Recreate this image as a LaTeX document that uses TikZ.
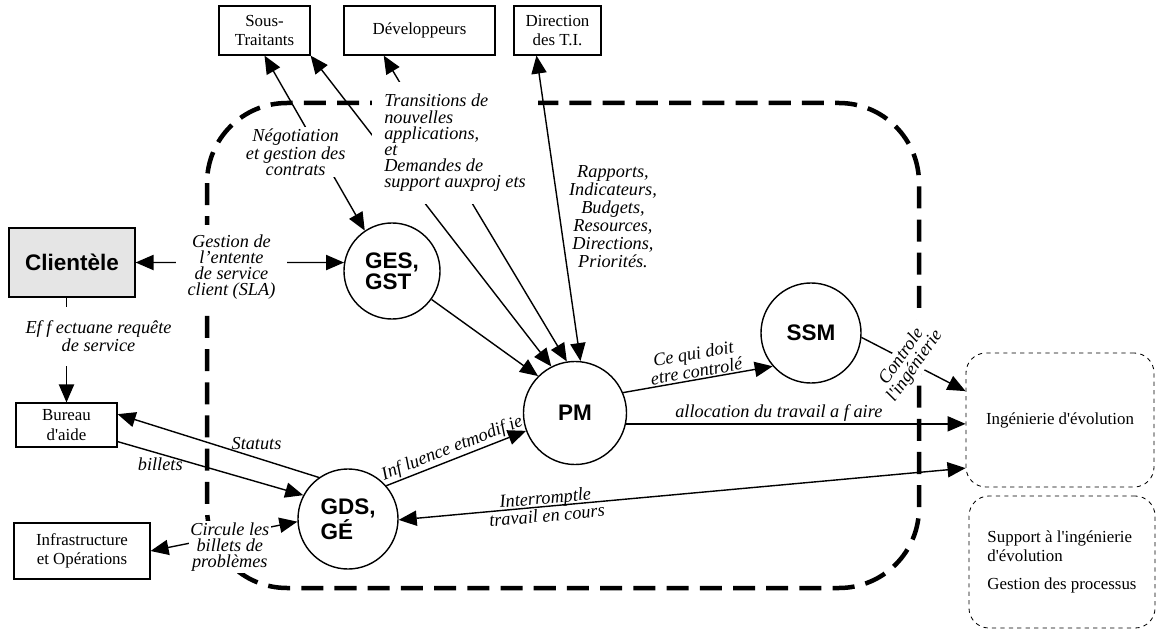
\documentclass[tikz,border=0pt]{standalone}
\usepackage{fontspec}
\setmainfont{Liberation Serif}
\newfontfamily\hfont{Liberation Sans}
\usetikzlibrary{arrows.meta}
\newcommand{\ap}{\textquotesingle}

\begin{document}
\begin{tikzpicture}[x=0.025cm,y=-0.025cm,
	boite/.style={draw,line width=0.8pt,align=center,inner sep=1pt,font=\fontsize{12}{14}\selectfont},
	bulle/.style={circle,draw,line width=1pt,align=left,inner sep=0pt,font=\hfont\bfseries\fontsize{16}{15}\selectfont},
	zone/.style={draw,dashed,line width=0.6pt,rounded corners=0.5cm,align=left,font=\fontsize{12}{13}\selectfont},
	lbl/.style={font=\itshape\fontsize{13}{11.5}\selectfont,align=center,inner sep=1pt},
	fl/.style={line width=1pt,-{Triangle[length=0.45cm,width=0.38cm]}},
	dfl/.style={line width=1pt,{Triangle[length=0.45cm,width=0.38cm]}-{Triangle[length=0.45cm,width=0.38cm]}},
	cadre/.style={line width=3.2pt,dash pattern=on 0.55cm off 0.28cm,rounded corners=2cm}]

	\useasboundingbox (0,0) rectangle (1156,629);
	\draw[cadre] (207,103) rectangle (919,588);

	\node[boite,minimum width=2.275cm,minimum height=1.225cm](st) at (264.5,30.5) {Sous-\\Traitants};
	\node[boite,minimum width=3.775cm,minimum height=1.225cm](dev) at (419.5,30.5) {Développeurs};
	\node[boite,minimum width=2.175cm,minimum height=1.225cm](dti) at (557.5,30.5) {Direction\\des T.I.};
	\node[boite,fill=black!10,minimum width=3.15cm,minimum height=1.725cm,font=\hfont\bfseries\fontsize{16}{18}\selectfont](cli) at (72,262.5) {Clientèle};
	\node[boite,minimum width=2.525cm,minimum height=1.1cm](ba) at (66.5,425) {Bureau\\d\ap aide};
	\node[boite,minimum width=3.4cm,minimum height=1.4cm](inf) at (82,551) {Infrastructure\\et Opérations};
	\node[bulle,minimum size=2.4cm](ges) at (392,271) {GES,\\GST};
	\node[bulle,minimum size=2.575cm](pm) at (575,413) {PM};
	\node[bulle,minimum size=2.5cm](gds) at (348,519) {GDS,\\GÉ};
	\node[bulle,minimum size=2.5cm](ssm) at (811,333) {SSM};
	\node[zone,minimum width=4.7cm,minimum height=3.35cm](ie) at (1060,420) {Ingénierie d\ap évolution};
	\node[zone,minimum width=4.65cm,minimum height=3.3cm](sie) at (1062,562) {Support à l\ap ingénierie\\d\ap évolution\\[7pt]Gestion des processus};

	\draw[dfl] (ges.124)--(st.south) node[lbl,fill=white,pos=0.45,xshift=-0.6cm] {Négotiation\\et gestion des\\contrats};
	\draw[dfl] (pm.117)--(st.south east);
	\draw[dfl] (pm.99)--(dev.215);
	\draw[dfl] (pm.84)--(dti.230);
	\draw[fl] (ges)--(pm.135);
	\node[lbl,fill=white,align=left,inner sep=0.3cm](tr) at (455,143) {Transitions de\\nouvelles\\applications,\\et\\Demandes de\\support auxproj ets};
	\node[lbl,font=\itshape\fontsize{13}{12.8}\selectfont](rap) at (613,217) {Rapports,\\Indicateurs,\\Budgets,\\Resources,\\Directions,\\Priorités.};
	\draw[dfl] (cli.east)--(ges.170) node[lbl,fill=white,pos=0.46,yshift=-0.12cm,inner xsep=0.3cm,inner ysep=0.25cm] {Gestion de\\l’entente\\de service\\client (SLA)};
	\draw[fl] (ba.north |- cli.south)--(ba.north) node[lbl,fill=white,pos=0.37,xshift=0.8cm,inner ysep=0.35cm] {Ef f ectuane requête\\de service};
	\draw[fl] (gds.125)--(ba.12) node[lbl,pos=0.31,above=4pt] {Statuts};
	\draw[fl] (ba.342)--(gds.152) node[lbl,pos=0.23,below=1pt] {billets};
	\draw[dfl] (inf.east)--(gds.183) node[lbl,fill=white,pos=0.54,yshift=-0.3cm] {Circule les\\billets de\\problèmes};
	\draw[fl] (gds.41)--(pm.200) node[lbl,sloped,above,midway] {Inf luence etmodif ie};
	\draw[fl] (pm.23)--(ssm.221) node[lbl,sloped,above,midway] {Ce qui doit\\etre controlé};
	\draw[fl] (pm.-12)--(pm.-12 -| ie.west) node[lbl,above,pos=0.45] {allocation du travail a f aire};
	\draw[fl] (ssm.-5)--(ie.163) node[lbl,fill=white,pos=0.45,rotate=55] {Controle\\l\ap ingénierie};
	\draw[dfl] (gds.-1)--(ie.207) node[lbl,sloped,pos=0.26] {Interromptle\\travail en cours};
\end{tikzpicture}
\end{document}
